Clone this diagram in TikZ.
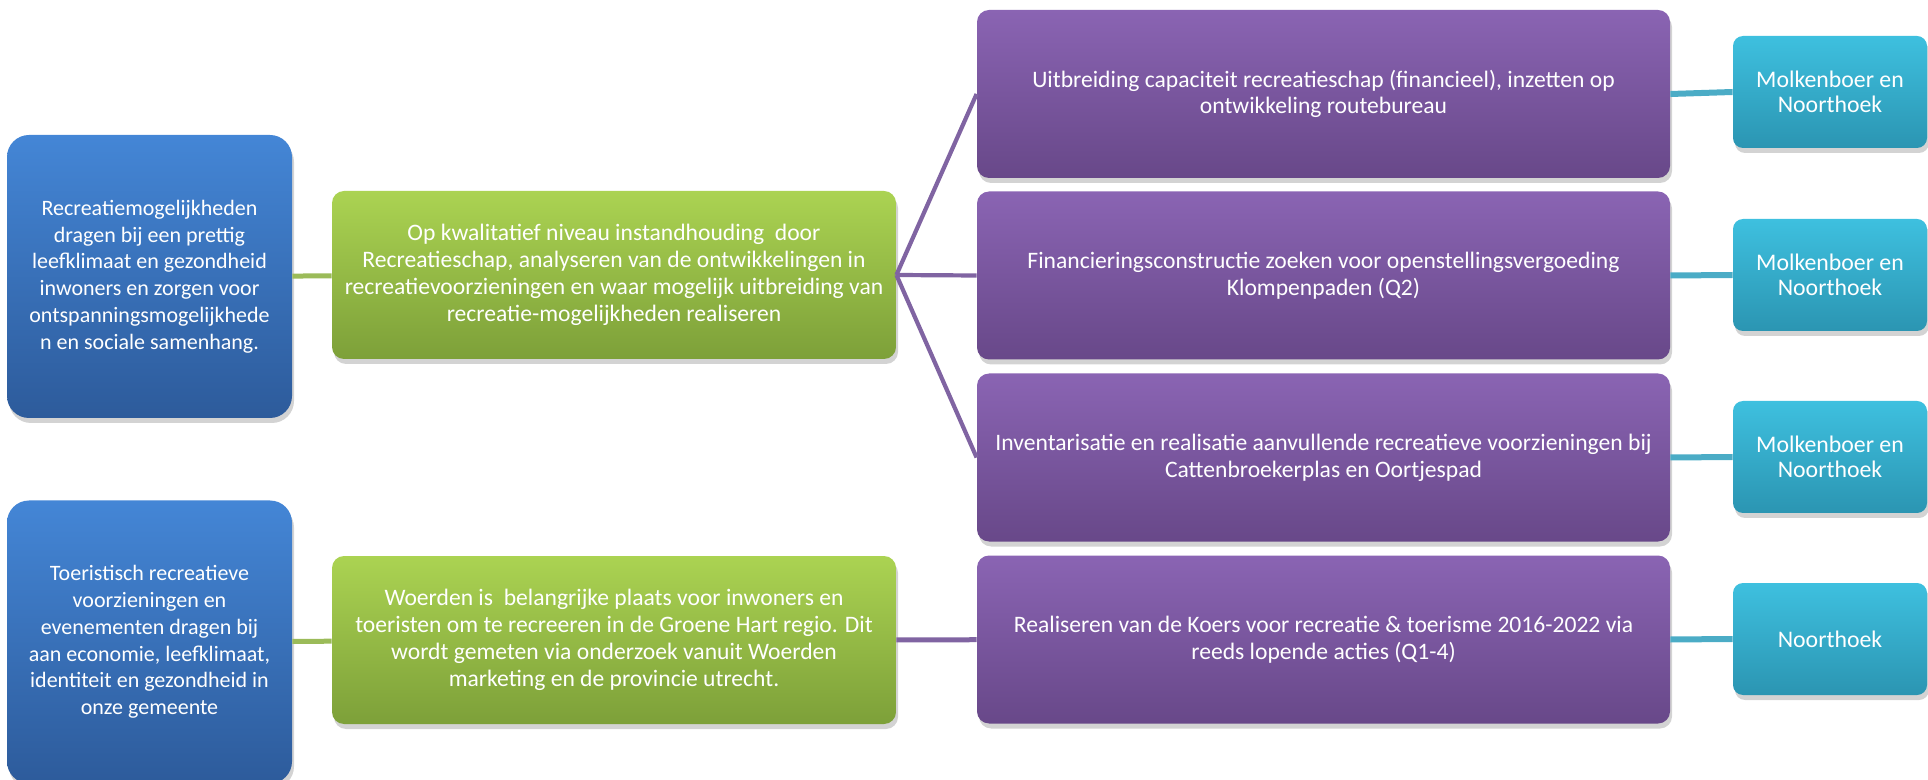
\documentclass[tikz,border=0pt]{standalone}
\usepackage{fontspec}
\setmainfont{Carlito}
\usetikzlibrary{shadows}

\definecolor{goaltop}{HTML}{4486D6}
\definecolor{goalbot}{HTML}{2D5B9B}
\definecolor{aimtop}{HTML}{ABD352}
\definecolor{aimbot}{HTML}{7DA039}
\definecolor{tasktop}{HTML}{8A64B3}
\definecolor{taskbot}{HTML}{684889}
\definecolor{ownertop}{HTML}{3EC0DF}
\definecolor{ownerbot}{HTML}{2B95B2}
\definecolor{aimline}{HTML}{9BBB59}
\definecolor{taskline}{HTML}{8064A2}
\definecolor{ownerline}{HTML}{4BACC6}

\begin{document}
\begin{tikzpicture}[x=0.5pt, y=-0.5pt,
  box/.style={text=white, align=center, inner sep=2pt,
    font=\fontsize{11.8}{13.4}\selectfont,
    drop shadow={shadow xshift=1pt, shadow yshift=-2.5pt, opacity=0.35}},
  goal/.style={box, rounded corners=11pt, top color=goaltop, bottom color=goalbot,
    minimum width=142.5pt, minimum height=141.5pt, font=\fontsize{11}{13.4}\selectfont},
  aim/.style={box, rounded corners=6pt, top color=aimtop, bottom color=aimbot,
    minimum width=282pt, minimum height=84pt},
  task/.style={box, rounded corners=6pt, top color=tasktop, bottom color=taskbot,
    minimum width=346.5pt, minimum height=84pt},
  owner/.style={box, rounded corners=5pt, top color=ownertop, bottom color=ownerbot,
    minimum width=97pt, minimum height=56pt, font=\fontsize{11.9}{12.6}\selectfont},
  link/.style={line width=#1}]

  \useasboundingbox (0,0) rectangle (1928,780);

  % goals
  \node[goal] (goalA) at (149.5,276.5) {Recreatiemogelijkheden\\dragen bij een prettig\\leefklimaat en gezondheid\\inwoners en zorgen voor\\ontspanningsmogelijkhede\\n en sociale samenhang.};
  \node[goal] (goalB) at (149.5,642) {Toeristisch recreatieve\\voorzieningen en\\evenementen dragen bij\\aan economie, leefklimaat,\\identiteit en gezondheid in\\onze gemeente};

  % aims
  \node[aim] (aimA) at (614,275) {Op kwalitatief niveau instandhouding\ \ door\\Recreatieschap, analyseren van de ontwikkelingen in\\recreatievoorzieningen en waar mogelijk uitbreiding van\\recreatie-mogelijkheden realiseren};
  \node[aim] (aimB) at (614,640) {Woerden is\ \ belangrijke plaats voor inwoners en\\toeristen om te recreeren in de Groene Hart regio. Dit\\wordt gemeten via onderzoek vanuit Woerden\\marketing en de provincie utrecht.};

  % tasks
  \node[task] (taskA) at (1323.5,94) {Uitbreiding capaciteit recreatieschap (financieel), inzetten op\\ontwikkeling routebureau};
  \node[task] (taskB) at (1323.5,275.5) {Financieringsconstructie zoeken voor openstellingsvergoeding\\Klompenpaden (Q2)};
  \node[task] (taskC) at (1323.5,457.5) {Inventarisatie en realisatie aanvullende recreatieve voorzieningen bij\\Cattenbroekerplas en Oortjespad};
  \node[task] (taskD) at (1323.5,639.5) {Realiseren van de Koers voor recreatie \& toerisme 2016-2022 via\\reeds lopende acties (Q1-4)};

  % owners
  \node[owner] (ownerA) at (1830,92) {Molkenboer en\\Noorthoek};
  \node[owner] (ownerB) at (1830,275) {Molkenboer en\\Noorthoek};
  \node[owner] (ownerC) at (1830,457) {Molkenboer en\\Noorthoek};
  \node[owner] (ownerD) at (1830,639) {Noorthoek};

  % connectors
  \draw[aimline, link=2.5pt] (goalA) -- (aimA);
  \draw[aimline, link=2.5pt] (goalB) -- (aimB);
  \foreach \t in {taskA,taskB,taskC}
    \draw[taskline, link=2.1pt] (aimA.east) -- (\t.west);
  \draw[taskline, link=2.5pt] (aimB) -- (taskD);
  \foreach \t/\o in {taskA/ownerA,taskB/ownerB,taskC/ownerC,taskD/ownerD}
    \draw[ownerline, link=3pt] (\t.east) -- (\o.west);
\end{tikzpicture}
\end{document}
